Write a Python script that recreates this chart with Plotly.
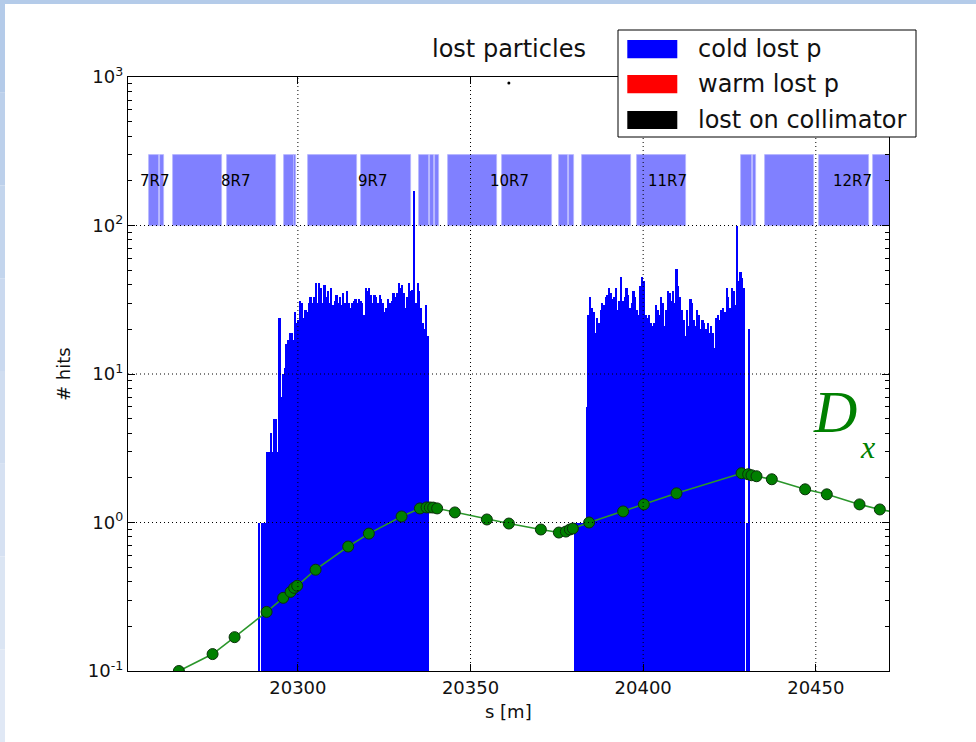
import math
import plotly.graph_objects as go

# ---------------- data ----------------
S_TICKS = [20300, 20350, 20400, 20450]
S_TICK_TEXT = ["20300", "20350", "20400", "20450"]
Y_TICKS = [0.1, 1, 10, 100, 1000]
Y_TICK_TEXT = ["10<sup>-1</sup>", "10<sup>0</sup>", "10<sup>1</sup>", "10<sup>2</sup>", "10<sup>3</sup>"]
Y_MINOR = [0.2, 0.3, 0.4, 0.5, 0.6, 0.7, 0.8, 0.9,
           2, 3, 4, 5, 6, 7, 8, 9,
           20, 30, 40, 50, 60, 70, 80, 90,
           200, 300, 400, 500, 600, 700, 800, 900]

BIN_W = 0.5
LEFT_START = 20288.5
left_hits = [1, 0, 1, 1, 1, 3, 3, 4, 3, 5, 5, 3, 24, 7, 10, 11, 16, 17, 19, 19,
             17, 26, 22, 23, 31, 30, 24, 27, 26, 30, 33, 30, 33, 41, 30, 41, 38, 30, 40, 33,
             36, 30, 38, 29, 31, 34, 30, 33, 29, 35, 30, 36, 30, 28, 30, 31, 32, 30, 32, 31,
             30, 25, 38, 36, 38, 34, 30, 34, 33, 30, 34, 32, 30, 26, 28, 32, 30, 31, 35, 33,
             35, 41, 38, 40, 35, 28, 33, 41, 36, 37, 170, 30, 41, 36, 28, 22, 20, 29, 18]
RIGHT_START = 20380.0
right_hits = [1, 1, 1, 1, 1, 1, 1, 6, 25, 33, 28, 26, 19, 24, 22, 27, 30, 29, 33, 34,
              38, 35, 32, 33, 38, 27, 31, 45, 31, 33, 38, 34, 28, 30, 36, 33, 27, 25, 39, 45,
              42, 25, 24, 25, 22, 21, 22, 29, 27, 25, 33, 30, 21, 27, 36, 35, 31, 36, 30, 51,
              39, 33, 27, 23, 18, 27, 21, 32, 30, 23, 21, 27, 25, 20, 23, 22, 20, 22, 19, 21,
              19, 15, 24, 25, 23, 27, 28, 26, 38, 33, 28, 38, 36, 29, 100, 42, 49, 44, 38, 0,
              1, 20]

magnet_start = [20256.77, 20260.04, 20263.72, 20279.44, 20295.86, 20298.85, 20302.90, 20318.40,
                20334.95, 20338.20, 20339.70, 20343.35, 20359.00, 20375.50, 20378.40, 20382.40,
                20398.10, 20428.30, 20431.70, 20435.20, 20450.96, 20466.60]
magnet_end = [20259.75, 20261.11, 20278.08, 20293.72, 20298.75, 20299.50, 20317.00, 20332.80,
              20337.85, 20339.40, 20340.80, 20357.70, 20373.50, 20378.10, 20379.90, 20396.60,
              20412.40, 20431.40, 20432.80, 20449.50, 20465.30, 20481.00]
MAGNET_BOTTOM = 100
MAGNET_TOP = 300

cell_names = ["7R7", "8R7", "9R7", "10R7", "11R7", "12R7"]
cell_pos = [20258.6, 20282.0, 20321.7, 20361.4, 20407.1, 20460.6]
CELL_LABEL_Y = 200

dx_s = [20265.54, 20275.30, 20281.67, 20290.94, 20295.74, 20297.89, 20298.93, 20299.80,
        20305.13, 20314.57, 20320.56, 20330.03, 20335.33, 20337.27, 20338.22, 20339.18,
        20340.34, 20345.46, 20354.73, 20361.10, 20370.37, 20375.58, 20377.61, 20378.77,
        20379.64, 20384.35, 20394.20, 20400.19, 20409.66, 20428.49, 20430.40, 20431.38,
        20432.83, 20437.26, 20446.91, 20453.19, 20462.66, 20468.54, 20478.00]
dx_val = [0.100, 0.130, 0.169, 0.250, 0.311, 0.341, 0.363, 0.375,
          0.481, 0.689, 0.842, 1.098, 1.244, 1.263, 1.263, 1.260,
          1.244, 1.169, 1.048, 0.984, 0.897, 0.856, 0.869, 0.897,
          0.911, 1.000, 1.187, 1.324, 1.572, 2.147, 2.113, 2.081,
          2.049, 1.955, 1.673, 1.548, 1.324, 1.224, 1.120]

coll_s = [20361.1]
coll_hits = [912]

X_RANGE = [20250.8, 20471.2]

# ---------------- figure ----------------
W, H = 976, 742
ML, MR, MT, MB = 128, 87, 77, 71
PW, PH = W - ML - MR, H - MT - MB


def px(x):
    return (x - ML) / PW


def py(y):
    return (H - MB - y) / PH


fig = go.Figure()

# cold magnet blocks
fig.add_trace(go.Bar(
    x=[(a + b) / 2 for a, b in zip(magnet_start, magnet_end)],
    y=[MAGNET_TOP - MAGNET_BOTTOM] * len(magnet_start),
    base=[MAGNET_BOTTOM] * len(magnet_start),
    width=[b - a for a, b in zip(magnet_start, magnet_end)],
    marker=dict(color="#8080ff", line=dict(color="#b4b4ff", width=0.8)),
    showlegend=False, hoverinfo="skip"))

hist_x = [LEFT_START + BIN_W * (i + 0.5) for i in range(len(left_hits))] + \
         [RIGHT_START + BIN_W * (i + 0.5) for i in range(len(right_hits))]
hist_y = left_hits + right_hits
fig.add_trace(go.Bar(
    x=hist_x, y=hist_y, width=BIN_W,
    marker=dict(color="#0000ff", line=dict(width=0)),
    showlegend=False, name="cold lost p"))

fig.add_trace(go.Scatter(
    x=dx_s, y=dx_val, mode="lines+markers",
    line=dict(color="#2a962a", width=1.6),
    marker=dict(size=11, color="#008000", line=dict(color="#0a300a", width=1)),
    showlegend=False))

fig.add_trace(go.Scatter(
    x=coll_s, y=coll_hits, mode="markers",
    marker=dict(size=3, color="black"), showlegend=False))

# cell labels
for name, s in zip(cell_names, cell_pos):
    fig.add_annotation(x=s, y=math.log10(CELL_LABEL_Y), xref="x", yref="y",
                       text=name, showarrow=False,
                       font=dict(family="DejaVu Sans", size=15, color="black"))

shapes = []
# grid lines above traces (matplotlib style)
for t in S_TICKS:
    shapes.append(dict(type="line", xref="x", yref="paper", x0=t, x1=t, y0=0, y1=1,
                       line=dict(color="black", width=1, dash="1px,3px"), layer="above"))
for t in Y_TICKS[1:-1]:
    shapes.append(dict(type="line", xref="paper", yref="y", x0=0, x1=1, y0=t, y1=t,
                       line=dict(color="black", width=1, dash="1px,3px"), layer="above"))

# legend (manual, matplotlib-like)
shapes.append(dict(type="rect", xref="paper", yref="paper",
                   x0=px(618), x1=px(916), y0=py(137), y1=py(30),
                   line=dict(color="black", width=1), fillcolor="white", layer="above"))
legend_items = [("cold lost p", "#0000ff", 40, 58.3, 49),
                ("warm lost p", "#ff0000", 75, 93.3, 84),
                ("lost on collimator", "#000000", 111, 129, 120)]
for label, col, ytop, ybot, ymid in legend_items:
    shapes.append(dict(type="rect", xref="paper", yref="paper",
                       x0=px(627.3), x1=px(677.3), y0=py(ybot), y1=py(ytop),
                       line=dict(width=0), fillcolor=col, layer="above"))
    fig.add_annotation(xref="paper", yref="paper", x=px(696), y=py(ymid),
                       xanchor="left", yanchor="middle", text=label, showarrow=False,
                       font=dict(family="DejaVu Sans", size=24, color="#111"))

# slide frame
shapes.append(dict(type="rect", xref="paper", yref="paper",
                   x0=px(0), x1=px(W), y0=py(4), y1=py(0),
                   line=dict(width=0), fillcolor="#b4cbe9", layer="above"))
frame_cols = ["#b4cbe9", "#bcd0eb", "#c3d5ed", "#cad9ef", "#d0ddf0", "#d6e1f2", "#dbe5f3", "#e0e8f5"]
seg = H / len(frame_cols)
for i, c in enumerate(frame_cols):
    shapes.append(dict(type="rect", xref="paper", yref="paper",
                       x0=px(0), x1=px(5), y0=py((i + 1) * seg), y1=py(i * seg),
                       line=dict(width=0), fillcolor=c, layer="above"))

fig.update_layout(shapes=shapes)

# title and axis labels
fig.add_annotation(xref="paper", yref="paper", x=0.5, y=py(49), text="lost particles",
                   showarrow=False, xanchor="center", yanchor="middle",
                   font=dict(family="DejaVu Sans", size=24, color="#111"))
fig.add_annotation(xref="paper", yref="paper", x=0.5, y=py(711), text="s [m]",
                   showarrow=False, xanchor="center", yanchor="middle",
                   font=dict(family="DejaVu Sans", size=18, color="#111"))
fig.add_annotation(xref="paper", yref="paper", x=px(63), y=py(374), text="# hits",
                   showarrow=False, textangle=-90, xanchor="center", yanchor="middle",
                   font=dict(family="DejaVu Sans", size=18, color="#111"))
# D_x label
fig.add_annotation(xref="paper", yref="paper", x=px(835), y=py(412), text="<i>D</i>",
                   showarrow=False, xanchor="center", yanchor="middle",
                   font=dict(family="Liberation Serif", size=60, color="#008000"))
fig.add_annotation(xref="paper", yref="paper", x=px(867.5), y=py(446.5), text="<i>x</i>",
                   showarrow=False, xanchor="center", yanchor="middle",
                   font=dict(family="Liberation Serif", size=32, color="#008000"))

fig.update_layout(
    width=W, height=H,
    margin=dict(l=ML, r=MR, t=MT, b=MB),
    paper_bgcolor="white", plot_bgcolor="white",
    barmode="overlay", bargap=0,
    showlegend=False,
    font=dict(family="DejaVu Sans", size=18, color="#111"),
    xaxis=dict(range=X_RANGE, tickmode="array", tickvals=S_TICKS, ticktext=S_TICK_TEXT,
               ticks="inside", ticklen=7, tickwidth=1, tickcolor="black",
               showline=True, linecolor="black", linewidth=1.3, mirror="ticks",
               showgrid=False, zeroline=False,
               tickfont=dict(family="DejaVu Sans", size=18, color="#111")),
    yaxis=dict(type="log", range=[-1, 3], tickmode="array", tickvals=Y_TICKS,
               ticktext=Y_TICK_TEXT,
               ticks="inside", ticklen=7, tickwidth=1, tickcolor="black",
               showline=True, linecolor="black", linewidth=1.3, mirror="ticks",
               showgrid=False, zeroline=False,
               minor=dict(tickmode="array", tickvals=Y_MINOR, ticks="inside",
                          ticklen=4, tickcolor="black", showgrid=False),
               tickfont=dict(family="DejaVu Sans", size=18, color="#111")),
)

fig.write_html("out.html",
               config={"displayModeBar": False},
               post_script="document.body.style.margin='0';document.body.style.overflow='hidden';")
